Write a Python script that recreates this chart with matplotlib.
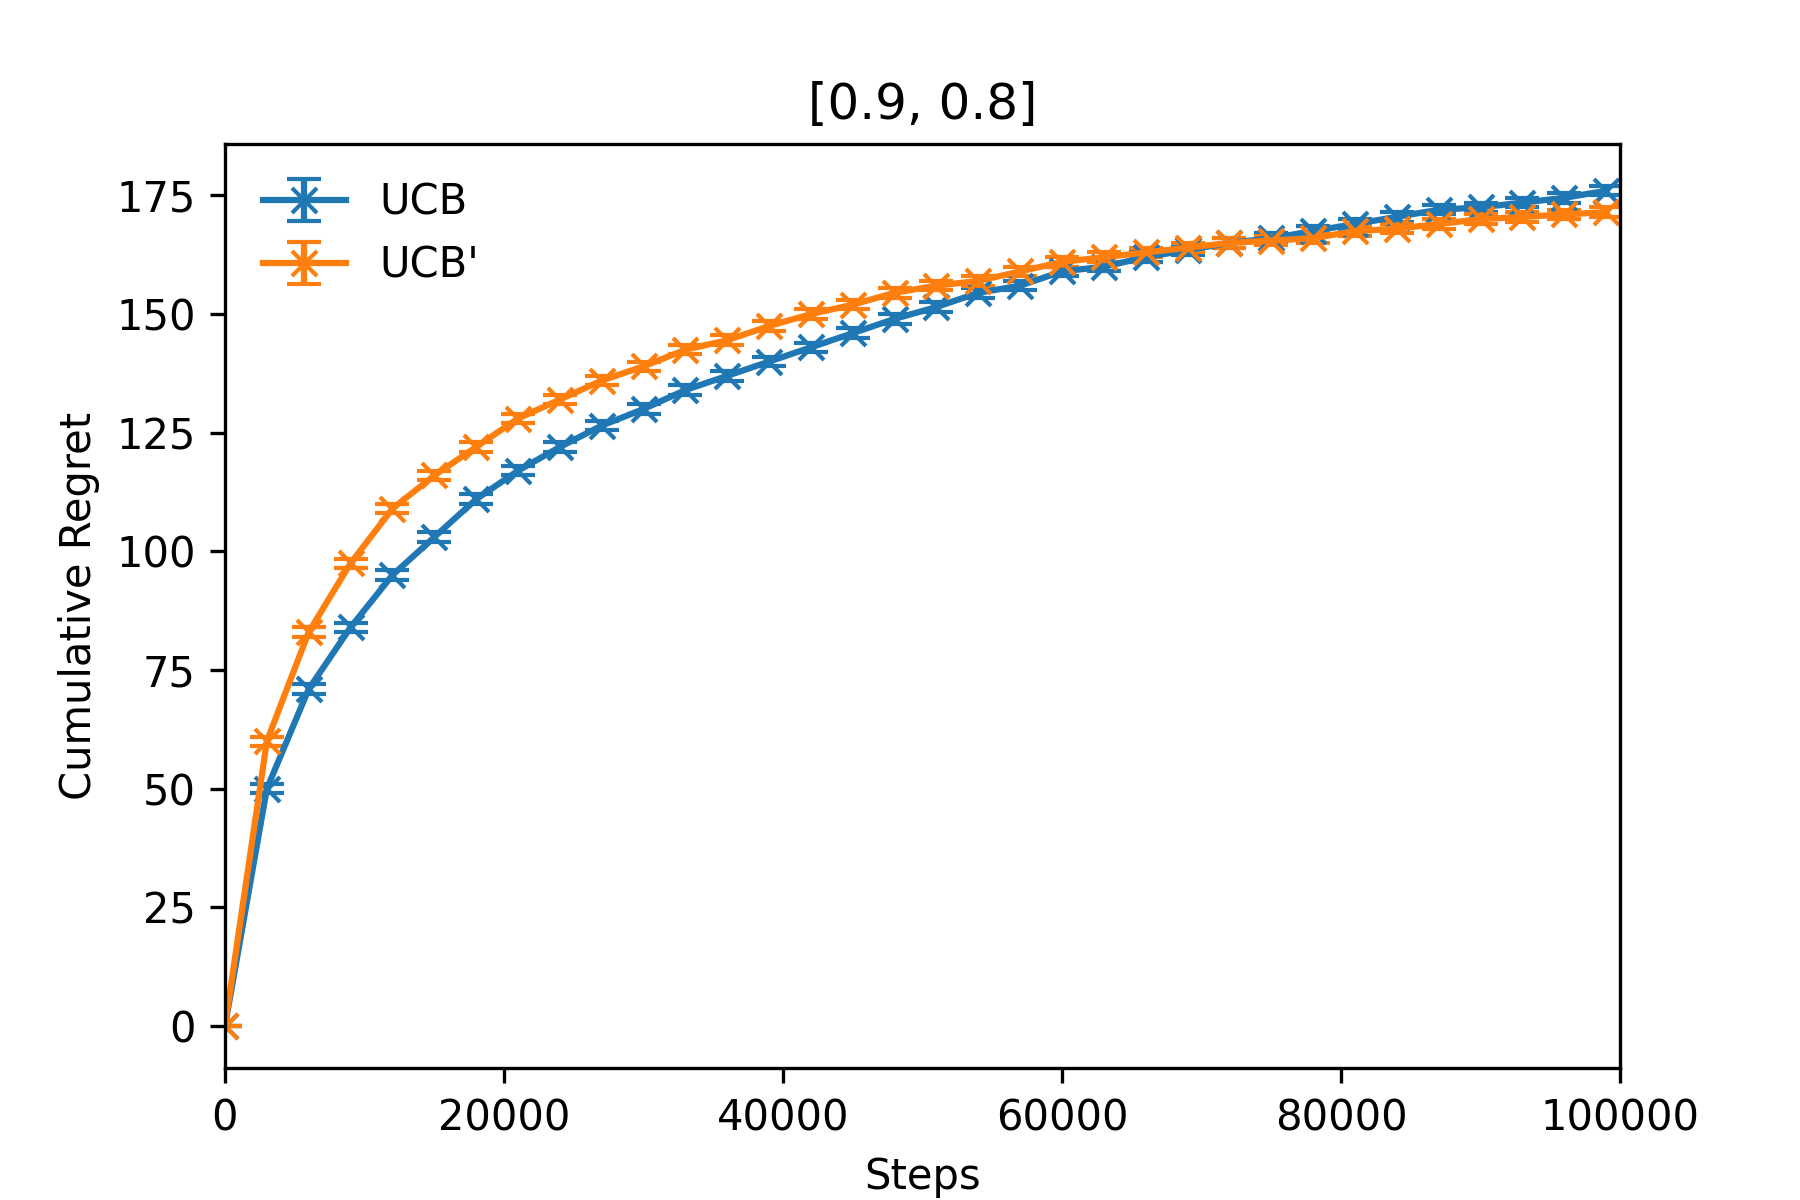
import matplotlib
matplotlib.use("Agg")
import matplotlib.pyplot as plt
import numpy as np

steps = list(range(0, 100000, 3000))
ucb = [0, 50, 71, 84, 95, 103, 111, 117, 122, 126.5, 130, 134, 137, 140, 143, 146,
       149, 151.5, 154.5, 156, 159, 160, 162, 163.5, 165, 166, 167.5, 169, 170.5,
       172, 172.5, 173.5, 174.5, 176]
ucbp = [0, 60, 83, 97.5, 109, 116, 122, 128, 132, 136, 139, 142.5, 144.5, 147.5, 150,
        152, 154.5, 156, 157, 159, 161, 162, 163, 164, 165, 165.5, 166, 167.5, 168,
        169, 170, 170.5, 171, 171.5]
err_ucb = [0] + [1.0] * (len(steps) - 1)
err_ucbp = [0] + [1.0] * (len(steps) - 1)

fig, ax = plt.subplots(figsize=(6, 4), dpi=300)
ax.errorbar(steps, ucb, yerr=err_ucb, marker='x', capsize=4, label='UCB', color='#1f77b4')
ax.errorbar(steps, ucbp, yerr=err_ucbp, marker='x', capsize=4, label="UCB'", color='#ff7f0e')
ax.set_xlim(0, 100000)
ax.set_title('[0.9, 0.8]')
ax.set_xlabel('Steps')
ax.set_ylabel('Cumulative Regret')
ax.legend(loc='upper left', frameon=False)
fig.savefig('out.png')
